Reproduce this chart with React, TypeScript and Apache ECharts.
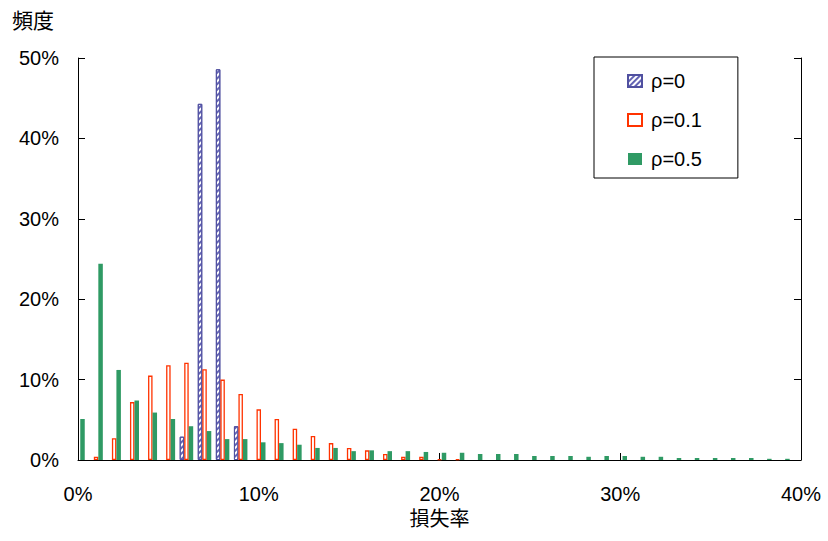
import React, { useEffect, useRef } from "react";
import * as echarts from "echarts";

// loss rate bins (%)
const lossRates = [
  0, 1, 2, 3, 4, 5, 6, 7, 8, 9,
  10, 11, 12, 13, 14, 15, 16, 17, 18, 19,
  20, 21, 22, 23, 24, 25, 26, 27, 28, 29,
  30, 31, 32, 33, 34, 35, 36, 37, 38, 39,
];

const seriesNames = ["ρ=0", "ρ=0.1", "ρ=0.5"];

// frequency (%)
const rho0 = [
  0, 0, 0, 0, 0, 0, 2.9, 44.3, 48.6, 4.2,
  0, 0, 0, 0, 0, 0, 0, 0, 0, 0,
  0, 0, 0, 0, 0, 0, 0, 0, 0, 0,
  0, 0, 0, 0, 0, 0, 0, 0, 0, 0,
];
const rho01 = [
  0, 0.4, 2.7, 7.2, 10.5, 11.8, 12.1, 11.3, 10.0, 8.2,
  6.3, 5.1, 3.9, 3.0, 2.1, 1.5, 1.2, 0.75, 0.4, 0.4,
  0.1, 0.1, 0, 0, 0, 0, 0, 0, 0, 0,
  0, 0, 0, 0, 0, 0, 0, 0, 0, 0,
];
const rho05 = [
  5.1, 24.4, 11.2, 7.4, 5.9, 5.1, 4.2, 3.6, 2.6, 2.6,
  2.2, 2.1, 1.9, 1.5, 1.5, 1.1, 1.2, 1.1, 1.1, 1.0,
  0.9, 0.9, 0.75, 0.75, 0.75, 0.5, 0.5, 0.5, 0.4, 0.5,
  0.5, 0.4, 0.4, 0.25, 0.25, 0.25, 0.25, 0.25, 0.15, 0.15,
];

const xTicks = { min: 0, max: 40, interval: 10 };
const yTicks = { min: 0, max: 50, interval: 10 };

const FONT = "'Liberation Sans', Arial, 'Noto Sans CJK JP', sans-serif";

function toPairs(vals: number[]) {
  return lossRates.map((x, i) => [x, vals[i] > 0 ? vals[i] : "-"]);
}

export default function App() {
  const ref = useRef<HTMLDivElement>(null);

  useEffect(() => {
    if (!ref.current) return;
    const chart = echarts.init(ref.current, null, { renderer: "svg" });
    const axisLine = { show: true, lineStyle: { color: "#000", width: 1 } };
    const tick = { show: true, inside: true, length: 7, lineStyle: { color: "#000", width: 1 } };
    chart.setOption({
      animation: false,
      backgroundColor: "#fff",
      textStyle: { fontFamily: FONT },
      title: {
        text: "頻度",
        left: 12,
        top: 10,
        padding: 0,
        textStyle: { fontSize: 21, fontWeight: "normal", color: "#000", fontFamily: FONT },
      },
      grid: { left: 78, right: 27, top: 58, bottom: 81, containLabel: false },
      legend: {
        orient: "vertical",
        left: 594,
        top: 57,
        data: seriesNames,
        itemWidth: 14,
        itemHeight: 12,
        itemGap: 19,
        padding: [14, 36, 9, 33],
        borderColor: "#000",
        borderWidth: 1,
        borderRadius: 0,
        backgroundColor: "#fff",
        icon: "rect",
        textStyle: { fontSize: 20, color: "#000", fontFamily: FONT, padding: [0, 0, 0, 4] },
      },
      xAxis: {
        type: "value",
        ...xTicks,
        name: "損失率",
        nameLocation: "middle",
        nameGap: 47,
        nameTextStyle: { fontSize: 20, color: "#000", fontFamily: FONT },
        axisLine,
        axisTick: tick,
        splitLine: { show: false },
        axisLabel: { formatter: "{value}%", fontSize: 20, color: "#000", margin: 24, fontFamily: FONT },
      },
      yAxis: [
        {
          type: "value",
          ...yTicks,
          position: "left",
          axisLine,
          axisTick: tick,
          splitLine: { show: false },
          axisLabel: { formatter: "{value}%", fontSize: 20, color: "#000", margin: 19, fontFamily: FONT },
        },
        {
          type: "value",
          ...yTicks,
          position: "right",
          axisLine,
          axisTick: tick,
          splitLine: { show: false },
          axisLabel: { show: false },
        },
      ],
      series: [
        {
          name: seriesNames[0],
          type: "bar",
          barWidth: 4.5,
          barGap: "0%",
          data: toPairs(rho0),
          itemStyle: {
            color: "#ffffff",
            borderColor: "#5050a0",
            borderWidth: 1,
            decal: {
              symbol: "rect",
              symbolSize: 1,
              color: "#6464b4",
              dashArrayX: [1, 0],
              dashArrayY: [2, 2],
              rotation: -Math.PI / 4,
            },
          },
        },
        {
          name: seriesNames[1],
          type: "bar",
          barWidth: 4.5,
          barGap: "0%",
          data: toPairs(rho01),
          itemStyle: { color: "#ffffff", borderColor: "#ff3300", borderWidth: 1.3 },
        },
        {
          name: seriesNames[2],
          type: "bar",
          barWidth: 4.5,
          barGap: "0%",
          data: toPairs(rho05),
          itemStyle: { color: "#2f9a64" },
        },
      ],
    });
    return () => chart.dispose();
  }, []);

  return (
    <div
      ref={ref}
      style={{ position: "fixed", left: 0, top: 0, width: 828, height: 541 }}
    />
  );
}
